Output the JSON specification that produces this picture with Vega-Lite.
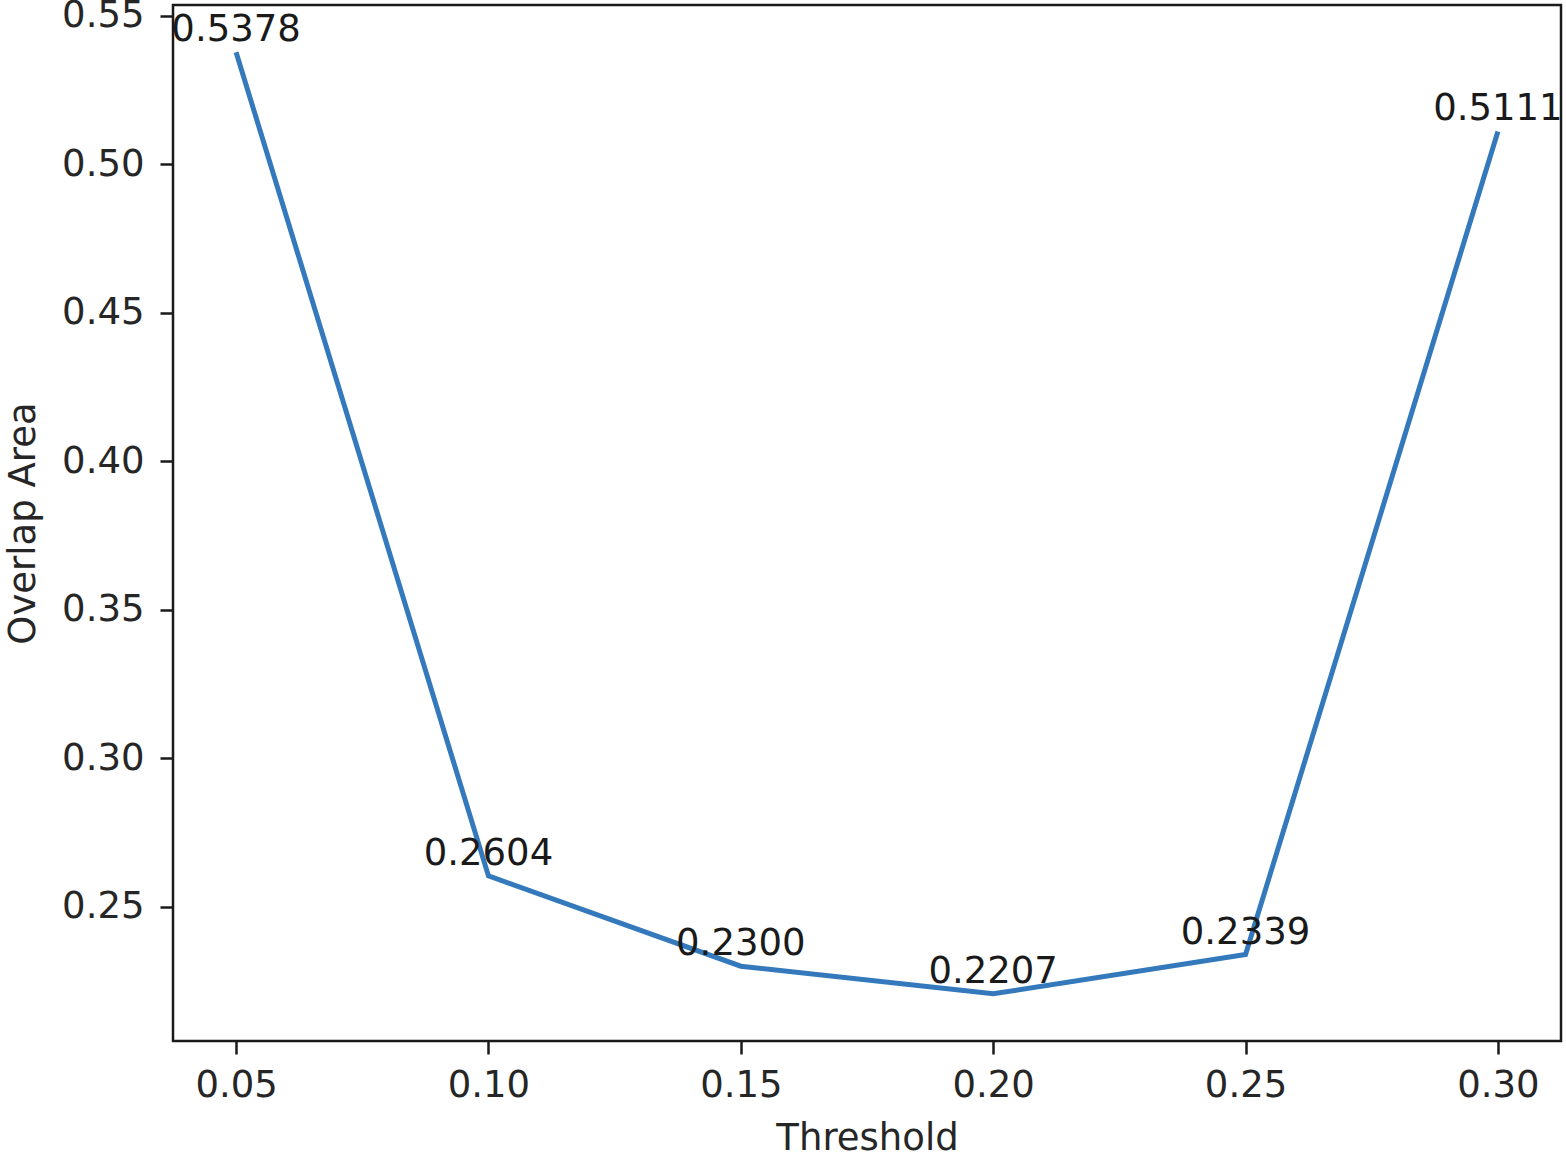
{
  "$schema": "https://vega.github.io/schema/vega-lite/v6.json",
  "autosize": "none",
  "width": 1388,
  "height": 1036,
  "padding": {"left": 173, "top": 5, "right": 5, "bottom": 113},
  "background": "white",
  "config": {
    "view": {"stroke": "#1a1a1a", "strokeWidth": 2.5},
    "font": "DejaVu Sans",
    "axis": {
      "grid": false,
      "domain": false,
      "tickColor": "#1a1a1a",
      "tickWidth": 2.5,
      "tickSize": 13,
      "labelFont": "DejaVu Sans",
      "labelFontSize": 37,
      "labelColor": "#262626",
      "titleFont": "DejaVu Sans",
      "titleFontSize": 37,
      "titleFontWeight": "normal",
      "titleColor": "#262626"
    }
  },
  "data": {
    "values": [
      {"threshold": 0.05, "overlap": 0.5378},
      {"threshold": 0.10, "overlap": 0.2604},
      {"threshold": 0.15, "overlap": 0.2300},
      {"threshold": 0.20, "overlap": 0.2207},
      {"threshold": 0.25, "overlap": 0.2339},
      {"threshold": 0.30, "overlap": 0.5111}
    ]
  },
  "encoding": {
    "x": {
      "field": "threshold",
      "type": "quantitative",
      "title": "Threshold",
      "scale": {"domain": [0.0375, 0.3125], "nice": false, "zero": false},
      "axis": {"values": [0.05, 0.10, 0.15, 0.20, 0.25, 0.30], "format": ".2f", "labelPadding": 13, "titlePadding": 17, "labelFlush": false}
    },
    "y": {
      "field": "overlap",
      "type": "quantitative",
      "title": "Overlap Area",
      "scale": {"domain": [0.2048, 0.5537], "nice": false, "zero": false},
      "axis": {"values": [0.25, 0.30, 0.35, 0.40, 0.45, 0.50, 0.55], "format": ".2f", "labelPadding": 16, "titlePadding": 19, "labelFlush": false}
    }
  },
  "layer": [
    {
      "mark": {"type": "line", "color": "#3379bb", "strokeWidth": 5, "clip": false}
    },
    {
      "mark": {"type": "text", "align": "center", "baseline": "alphabetic", "dy": -11, "fontSize": 37, "color": "#1a1a1a", "font": "DejaVu Sans"},
      "encoding": {
        "text": {"field": "overlap", "type": "quantitative", "format": ".4f"}
      }
    }
  ]
}
